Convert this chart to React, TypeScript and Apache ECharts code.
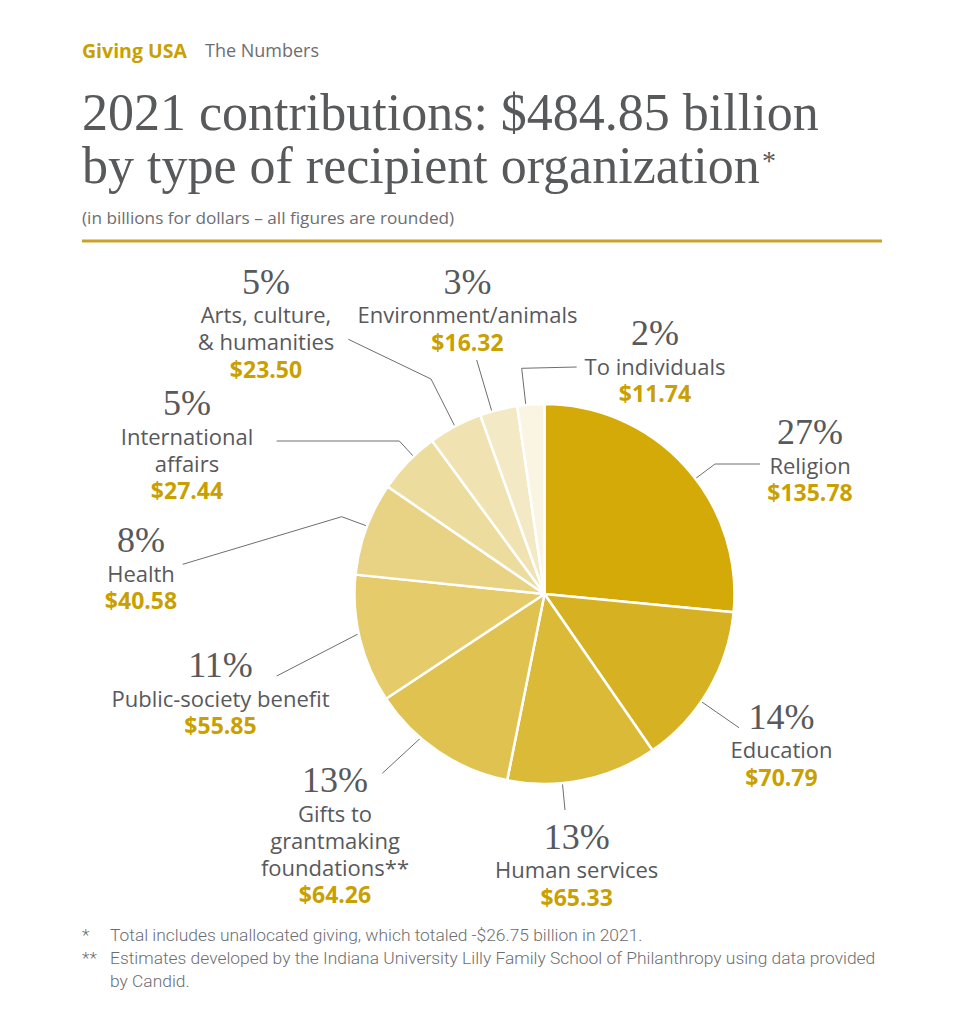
import React, { useEffect, useRef } from 'react';
import * as echarts from 'echarts';

// ---------- data ----------
const categories = [
  'Religion',
  'Education',
  'Human services',
  'Gifts to\ngrantmaking\nfoundations**',
  'Public-society benefit',
  'Health',
  'International\naffairs',
  'Arts, culture,\n& humanities',
  'Environment/animals',
  'To individuals',
];
const values = [135.78, 70.79, 65.33, 64.26, 55.85, 40.58, 27.44, 23.5, 16.32, 11.74];
const percentLabels = ['27%', '14%', '13%', '13%', '11%', '8%', '5%', '5%', '3%', '2%'];
const sliceColors = [
  '#D3AA08', '#D6B222', '#DBBA38', '#E0C250', '#E5CB6A',
  '#E8D384', '#ECDC9D', '#F0E3B1', '#F3EAC5', '#FAF4E2',
];

// ---------- layout ----------
const CX = 544.5;
const CY = 594;
const R = 190;
// label block: [centre x, top y]
const labelPos = [
  [810, 413], [781.5, 697.7], [576.7, 817.7], [335, 761], [220.5, 646],
  [141, 521], [187, 384], [266, 262.7], [467.5, 262.7], [655, 314.3],
];
// leader-line anchor inside the slice: [fraction of slice angle, fraction of radius]
const anchors = [
  [0.55, 0.92], [0.58, 0.93], [0.636, 0.92], [0.64, 0.94], [0.57, 0.94],
  [0.53, 0.95], [0.62, 0.95], [0.49, 0.96], [0.32, 0.96], [0.32, 0.96],
];
// leader-line points after the anchor
const leaderRest = [
  [[715, 464], [760, 464]],
  [[739, 727.7]],
  [[565, 810]],
  [[382.3, 773.3]],
  [[276.7, 676]],
  [[341.7, 516.7], [182.7, 564.3]],
  [[399.3, 441], [276.7, 441]],
  [[431, 379], [348.3, 339.3]],
  [[476.7, 360]],
  [[521.7, 368.3], [576.7, 367]],
];

const GOLD = '#C9A000';
const GREY = '#58595B';
const LIGHT = '#6D6E71';

export default function App() {
  const ref = useRef<HTMLDivElement>(null);
  useEffect(() => {
    document.body.style.margin = '0';
    const chart = echarts.init(ref.current!, null, { renderer: 'svg' });
    const total = values.reduce((a, b) => a + b, 0);

    const txt = (text: string, x: number, y: number, font: string, fill: string, align = 'left') => ({
      type: 'text',
      x,
      y,
      silent: true,
      style: { text, font, fill, textAlign: align, textVerticalAlign: 'middle' },
    });

    const option: any = {
      animation: false,
      backgroundColor: '#ffffff',
      graphic: [
        txt('Giving USA', 82, 50, '700 19.5px "Open Sans"', GOLD),
        txt('The Numbers', 205, 50, '400 18px "Open Sans"', LIGHT),
        txt('2021 contributions: $484.85 billion', 82, 112.5, '52px "Liberation Serif"', GREY),
        txt('by type of recipient organization', 82, 165.5, '52px "Liberation Serif"', GREY),
        txt('*', 762, 160, '28px "Liberation Serif"', GREY),
        txt('(in billions for dollars – all figures are rounded)', 82, 217, '17.2px "Open Sans"', LIGHT),
        {
          type: 'line',
          silent: true,
          shape: { x1: 82, y1: 241, x2: 882, y2: 241 },
          style: { stroke: '#C9A227', lineWidth: 3 },
        },
        txt('*', 82, 935, '300 17.4px Roboto', LIGHT),
        txt('Total includes unallocated giving, which totaled -$26.75 billion in 2021.', 110, 935, '300 17.4px Roboto', LIGHT),
        txt('**', 82, 958, '300 17.4px Roboto', LIGHT),
        txt('Estimates developed by the Indiana University Lilly Family School of Philanthropy using data provided', 110, 958, '300 17.4px Roboto', LIGHT),
        txt('by Candid.', 110, 981, '300 17.4px Roboto', LIGHT),
      ],
      series: [
        {
          type: 'pie',
          center: [CX, CY],
          radius: R,
          startAngle: 90,
          clockwise: true,
          avoidLabelOverlap: false,
          emphasis: { disabled: true },
          itemStyle: { borderColor: '#ffffff', borderWidth: 2.5 },
          data: categories.map((name, i) => ({ name, value: values[i], itemStyle: { color: sliceColors[i] } })),
          label: {
            show: true,
            position: 'outside',
            formatter: (p: any) =>
              '{p|' + percentLabels[p.dataIndex] + '}\n{n|' + p.name + '}\n{v|$' + values[p.dataIndex].toFixed(2) + '}',
            rich: {
              p: { fontFamily: 'Liberation Serif', fontSize: 36, lineHeight: 38, color: GREY, align: 'center' },
              n: { fontFamily: 'Open Sans', fontSize: 22, lineHeight: 27, color: GREY, align: 'center' },
              v: { fontFamily: 'Open Sans', fontWeight: 'bold', fontSize: 23, lineHeight: 28, color: GOLD, align: 'center' },
            },
          },
          labelLine: { show: true, length: 10, length2: 10, lineStyle: { color: LIGHT, width: 1 } },
          labelLayout: (params: any) => {
            const i = params.dataIndex;
            let start = 0;
            for (let k = 0; k < i; k++) start += values[k];
            const a = ((start + values[i] * anchors[i][0]) / total) * Math.PI * 2;
            const r = R * anchors[i][1];
            const p0 = [CX + r * Math.sin(a), CY - r * Math.cos(a)];
            return {
              x: labelPos[i][0],
              y: labelPos[i][1],
              align: 'center',
              verticalAlign: 'top',
              labelLinePoints: [p0, ...leaderRest[i]],
            };
          },
        },
      ],
    };
    chart.setOption(option);
    return () => chart.dispose();
  }, []);
  return <div ref={ref} style={{ width: 965, height: 1024 }} />;
}
